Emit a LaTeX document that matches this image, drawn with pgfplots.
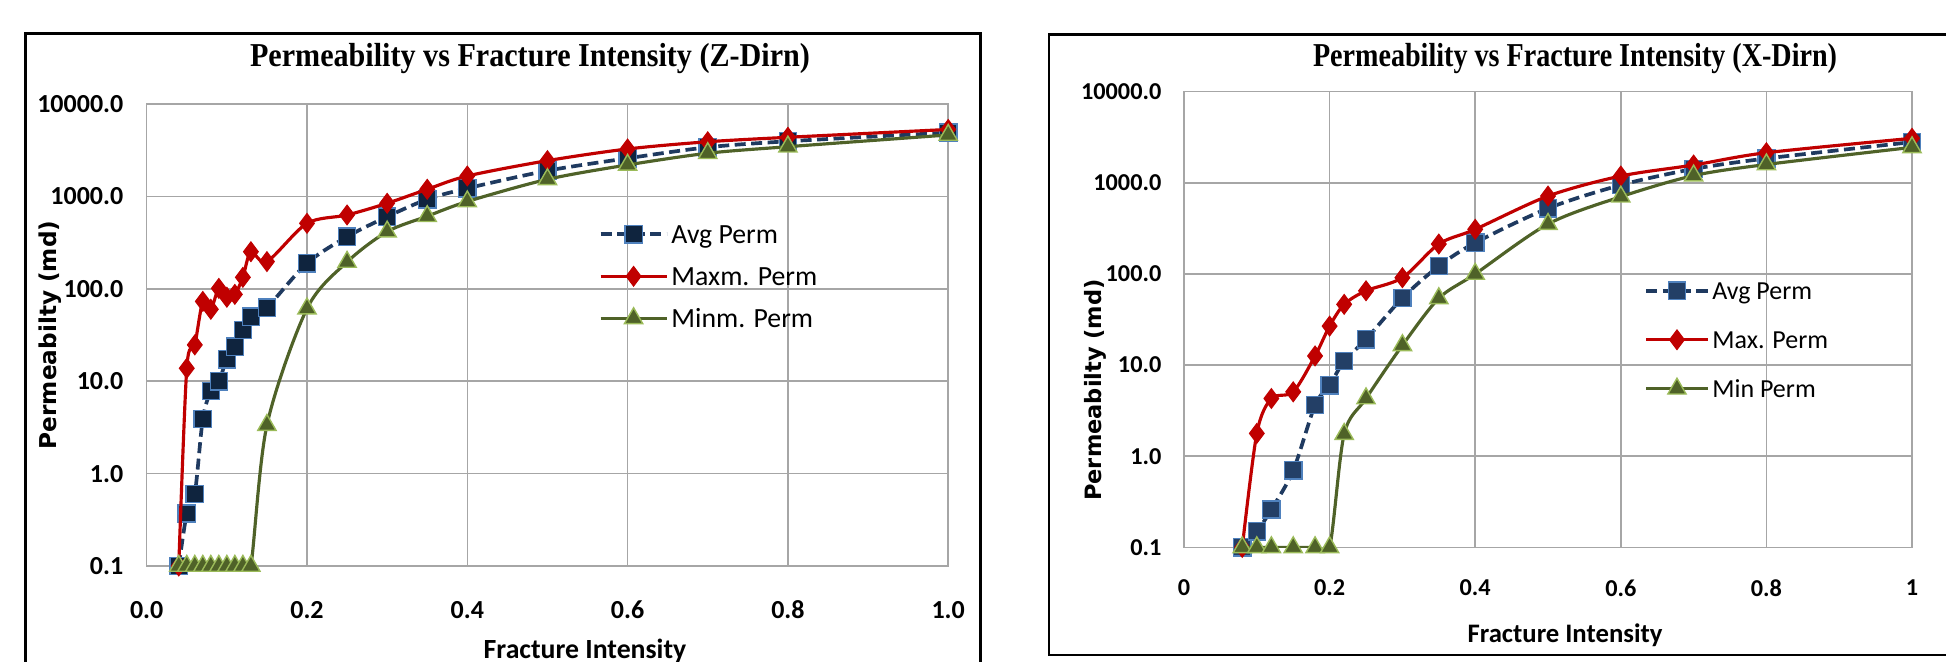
\documentclass[border=0pt]{standalone}
\usepackage{pgfplots}
\pgfplotsset{compat=1.18}
\usepackage{fontspec}
\setmainfont{Carlito}
\newfontfamily\titlefont{Liberation Serif}
\newfontfamily\labfont{DejaVu Sans}
\definecolor{avgline}{HTML}{1F3A60}
\definecolor{avgfill}{HTML}{0F243E}
\definecolor{avgfillR}{HTML}{233F66}
\definecolor{avgedge}{HTML}{4F81BD}
\definecolor{maxc}{HTML}{C00000}
\definecolor{minc}{HTML}{4F6228}
\definecolor{minedge}{HTML}{9BBB59}
\definecolor{gridc}{HTML}{A6A6A6}

\tikzset{
 avgst/.style={avgline, line width=1.05pt, dash pattern=on 1.1mm off 0.55mm, smooth, tension=0.5, mark=square*, mark size=2.45pt, mark options={solid, fill=avgfill, draw=avgedge, line width=0.4pt}},
 maxst/.style={maxc, line width=0.9pt, smooth, tension=0.5, mark=diamond*, mark size=2.8pt, mark options={solid, fill=maxc, draw=maxc, line width=0.3pt}},
 minst/.style={minc, line width=0.9pt, smooth, tension=0.5, mark=triangle*, mark size=3.0pt, mark options={solid, fill=minc, draw=minedge, line width=0.4pt}},
}

\begin{document}
\begin{tikzpicture}
\path[use as bounding box] (0,0) rectangle (194.6mm,66.2mm);
% frames
\draw[line width=0.85pt] (2.55mm,-3mm) -- (2.55mm,62.8mm) -- (98.0mm,62.8mm) -- (98.0mm,-3mm);
\draw[line width=0.8pt] (197mm,0.7mm) -- (104.9mm,0.7mm) -- (104.9mm,62.75mm) -- (197mm,62.75mm);

% ---------- Left: Z-Dirn ----------
\begin{axis}[
  at={(14.67mm,9.6mm)}, anchor=south west, width=80.15mm, height=46.2mm,
  scale only axis, ymode=log, ymin=0.1, ymax=10000, xmin=0, xmax=1,
  xtick={0,0.2,0.4,0.6,0.8,1}, ytick={0.1,1,10,100,1000,10000},
  yticklabels={0.1,1.0,10.0,100.0,1000.0,10000.0},
  xticklabels={0.0,0.2,0.4,0.6,0.8,1.0},
  grid=major, major grid style={gridc, line width=0.45pt},
  axis line style={gridc, line width=0.45pt},
  major tick length=0pt, minor tick length=0pt,
  clip mode=individual,
  /pgf/number format/assume math mode=true,
  xticklabel style={font=\fontsize{7.4}{8}\selectfont\bfseries, anchor=center, yshift=-4.4mm, inner sep=0pt},
  yticklabel style={font=\fontsize{7.4}{8}\selectfont\bfseries, anchor=east, xshift=-2.27mm, inner sep=0pt},
  legend cell align=left,
  legend image code/.code={\draw[mark repeat=2,mark phase=2] plot coordinates {(0mm,0mm) (3.3mm,0mm) (6.6mm,0mm)};},
  legend style={at={(0.564,0.627)}, anchor=west, draw=none, fill=none, inner sep=0pt, outer sep=0pt,
    font=\fontsize{7.9}{8}\selectfont, row sep=0pt,
    nodes={inner xsep=0.3mm, inner ysep=0.5mm, text height=2.5mm, text depth=0.7mm}},
]
\addplot[avgst] coordinates {(0.04,0.1) (0.05,0.37) (0.06,0.6) (0.07,3.9) (0.08,7.8) (0.09,10.0) (0.10,17.3) (0.11,23.6) (0.12,35.8) (0.13,50) (0.15,62.5) (0.2,189) (0.25,366) (0.3,603) (0.35,930) (0.4,1223) (0.5,1897) (0.6,2585) (0.7,3400) (0.8,3950) (1.0,4900)};
\addlegendentry{Avg Perm}
\addplot[maxst] coordinates {(0.04,0.1) (0.05,13.8) (0.06,24.7) (0.07,73) (0.08,60) (0.09,101) (0.10,81) (0.11,87) (0.12,133) (0.13,252) (0.15,197) (0.2,511) (0.25,629) (0.3,842) (0.35,1194) (0.4,1662) (0.5,2437) (0.6,3260) (0.7,3900) (0.8,4360) (1.0,5300)};
\addlegendentry{Maxm. Perm}
\addplot[minst] coordinates {(0.04,0.1) (0.05,0.1) (0.06,0.1) (0.07,0.1) (0.08,0.1) (0.09,0.1) (0.10,0.1) (0.11,0.1) (0.12,0.1) (0.13,0.1) (0.15,3.35) (0.2,61) (0.25,195) (0.3,415) (0.35,610) (0.4,880) (0.5,1530) (0.6,2190) (0.7,2930) (0.8,3450) (1.0,4620)};
\addlegendentry{Minm. Perm}
\end{axis}

% ---------- Right: X-Dirn ----------
\begin{axis}[
  at={(118.4mm,11.46mm)}, anchor=south west, width=72.8mm, height=45.57mm,
  scale only axis, ymode=log, ymin=0.1, ymax=10000, xmin=0, xmax=1,
  xtick={0,0.2,0.4,0.6,0.8,1}, ytick={0.1,1,10,100,1000,10000},
  yticklabels={0.1,1.0,10.0,100.0,1000.0,10000.0},
  xticklabels={0,0.2,0.4,0.6,0.8,1},
  grid=major, major grid style={gridc, line width=0.45pt},
  axis line style={gridc, line width=0.45pt},
  major tick length=0pt, minor tick length=0pt,
  clip mode=individual,
  /pgf/number format/assume math mode=true,
  xticklabel style={font=\fontsize{6.9}{8}\selectfont\bfseries, anchor=center, yshift=-4.06mm, inner sep=0pt},
  yticklabel style={font=\fontsize{6.9}{8}\selectfont\bfseries, anchor=east, xshift=-2.2mm, inner sep=0pt},
  legend cell align=left,
  legend image code/.code={\draw[mark repeat=2,mark phase=2] plot coordinates {(0mm,0mm) (3.05mm,0mm) (6.1mm,0mm)};},
  legend style={at={(0.6327,0.4556)}, anchor=west, draw=none, fill=none, inner sep=0pt, outer sep=0pt,
    font=\fontsize{7.4}{8}\selectfont, row sep=0pt,
    nodes={inner xsep=0.3mm, inner ysep=0.5mm, text height=2.8mm, text depth=1.1mm}},
]
\addplot[avgst, mark options={solid, fill=avgfillR, draw=avgedge, line width=0.4pt}] coordinates {(0.08,0.1) (0.1,0.15) (0.12,0.26) (0.15,0.70) (0.18,3.64) (0.2,6.0) (0.22,11.1) (0.25,19.2) (0.3,54.5) (0.35,122) (0.4,220) (0.5,525) (0.6,946) (0.7,1420) (0.8,1850) (1.0,2800)};
\addlegendentry{Avg Perm}
\addplot[maxst] coordinates {(0.08,0.1) (0.1,1.78) (0.12,4.3) (0.15,5.09) (0.18,12.6) (0.2,26.8) (0.22,46.4) (0.25,65.4) (0.3,91) (0.35,213) (0.4,309) (0.5,716) (0.6,1188) (0.7,1568) (0.8,2140) (1.0,3078)};
\addlegendentry{Max. Perm}
\addplot[minst] coordinates {(0.08,0.1) (0.1,0.1) (0.12,0.1) (0.15,0.1) (0.18,0.1) (0.2,0.1) (0.22,1.75) (0.25,4.3) (0.3,16.5) (0.35,54) (0.4,100) (0.5,353) (0.6,704) (0.7,1200) (0.8,1590) (1.0,2450)};
\addlegendentry{Min Perm}
\end{axis}

% titles
\node[anchor=base, inner sep=0pt] at (53.0mm,59.5mm) {\resizebox{56mm}{\height}{\titlefont\bfseries\fontsize{9.5}{9.5}\selectfont Permeability vs Fracture Intensity (Z-Dirn)}};
\node[anchor=base, inner sep=0pt] at (157.5mm,59.5mm) {\resizebox{52.4mm}{\height}{\titlefont\bfseries\fontsize{9.5}{9.5}\selectfont Permeability vs Fracture Intensity (X-Dirn)}};
% axis labels
\node[anchor=base, inner sep=0pt] at (58.5mm,0.3mm) {\fontsize{7.9}{8}\selectfont\bfseries Fracture Intensity};
\node[anchor=base, inner sep=0pt] at (156.5mm,1.9mm) {\fontsize{7.6}{8}\selectfont\bfseries Fracture Intensity};
\node[rotate=90, inner sep=0pt] at (5.0mm,32.7mm) {\labfont\bfseries\fontsize{6.6}{7}\selectfont Permeabilty (md)};
\node[rotate=90, inner sep=0pt] at (109.5mm,27.2mm) {\labfont\bfseries\fontsize{6.4}{7}\selectfont Permeabilty (md)};
\end{tikzpicture}
\end{document}
